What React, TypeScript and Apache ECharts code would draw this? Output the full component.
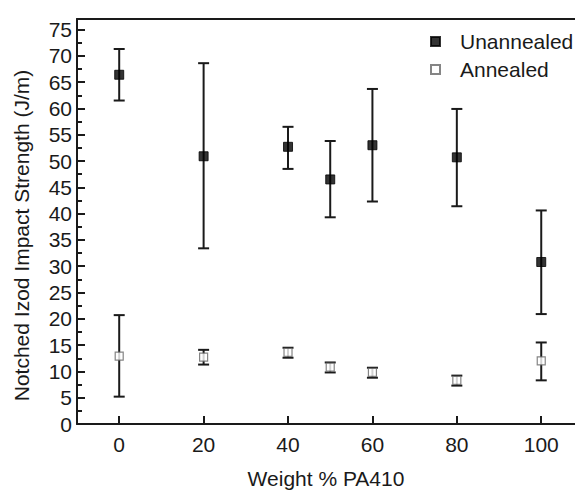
import React, { useEffect, useRef } from "react";
import * as echarts from "echarts";

const weights = [0, 20, 40, 50, 60, 80, 100];
const unannealed = [66.4, 50.9, 52.7, 46.5, 53.0, 50.7, 30.8];
const unannealedLow = [61.5, 33.4, 48.5, 39.3, 42.3, 41.4, 20.9];
const unannealedHigh = [71.3, 68.6, 56.5, 53.8, 63.7, 59.9, 40.6];
const annealed = [12.9, 12.7, 13.6, 10.8, 9.8, 8.3, 12.0];
const annealedLow = [5.2, 11.3, 12.6, 9.8, 8.8, 7.3, 8.3];
const annealedHigh = [20.7, 14.1, 14.5, 11.7, 10.7, 9.2, 15.5];
const xTicks = [0, 20, 40, 60, 80, 100];

const FONT = "'Liberation Sans', Arial, sans-serif";
const INK = "#1a1a1a";

function errorSeries(name: string, lo: number[], hi: number[]) {
  return {
    name: name + " err",
    type: "custom",
    z: 1,
    data: weights.map((w, i) => [w, lo[i], hi[i]]),
    renderItem: (params: any, api: any) => {
      const x = api.value(0);
      const pLo = api.coord([x, api.value(1)]);
      const pHi = api.coord([x, api.value(2)]);
      const hw = 5.5;
      const style = { stroke: INK, lineWidth: 2 };
      return {
        type: "group",
        children: [
          { type: "line", shape: { x1: pLo[0], y1: pLo[1], x2: pHi[0], y2: pHi[1] }, style },
          { type: "line", shape: { x1: pHi[0] - hw, y1: pHi[1], x2: pHi[0] + hw, y2: pHi[1] }, style },
          { type: "line", shape: { x1: pLo[0] - hw, y1: pLo[1], x2: pLo[0] + hw, y2: pLo[1] }, style },
        ],
      };
    },
  };
}

export default function App() {
  const ref = useRef<HTMLDivElement>(null);
  useEffect(() => {
    if (!ref.current) return;
    const chart = echarts.init(ref.current, undefined, { renderer: "svg" });
    chart.setOption({
      animation: false,
      textStyle: { fontFamily: FONT },
      grid: { left: 77, right: 0, top: 19, bottom: 66, containLabel: false, outerBoundsMode: "none" },
      legend: {
        orient: "vertical",
        left: 425,
        top: 26,
        itemWidth: 9,
        itemHeight: 9,
        itemGap: 7,
        data: ["Unannealed", "Annealed"],
        textStyle: { fontFamily: FONT, fontSize: 21, color: INK, lineHeight: 21, padding: [0, 0, 0, 15] },
      },
      xAxis: [
        {
          type: "value",
          min: -10,
          max: 108,
          interval: 10,
          name: "Weight % PA410",
          nameLocation: "middle",
          nameGap: 44,
          nameTextStyle: { fontFamily: FONT, fontSize: 21, color: INK },
          axisLine: { show: true, onZero: false, lineStyle: { color: INK, width: 2 } },
          axisTick: { show: true, inside: true, length: 8, lineStyle: { color: INK, width: 2 }, customValues: xTicks },
          axisLabel: { fontFamily: FONT, fontSize: 21, color: INK, margin: 10, customValues: xTicks },
          splitLine: { show: false },
        },
        {
          type: "value",
          position: "top",
          min: -10,
          max: 108,
          axisLine: { show: true, onZero: false, lineStyle: { color: INK, width: 2 } },
          axisTick: { show: false },
          axisLabel: { show: false },
          splitLine: { show: false },
        },
      ],
      yAxis: {
        type: "value",
        min: 0,
        max: 77,
        interval: 5,
        name: "Notched Izod Impact Strength (J/m)",
        nameLocation: "middle",
        nameGap: 45,
        nameTextStyle: { fontFamily: FONT, fontSize: 21, color: INK, padding: [0, 28, 0, 0] },
        axisLine: { show: true, onZero: false, lineStyle: { color: INK, width: 2 } },
        axisTick: { show: true, inside: true, length: 8, lineStyle: { color: INK, width: 2 } },
        minorTick: { show: true, splitNumber: 2, length: 5, lineStyle: { color: INK, width: 2 } },
        axisLabel: {
          fontFamily: FONT,
          fontSize: 21,
          color: INK,
          margin: 5,
          formatter: (v: number) => (v % 5 === 0 && v <= 75 ? String(v) : ""),
        },
        splitLine: { show: false },
      },
      series: [
        errorSeries("Unannealed", unannealedLow, unannealedHigh),
        errorSeries("Annealed", annealedLow, annealedHigh),
        {
          name: "Unannealed",
          type: "scatter",
          z: 3,
          symbol: "rect",
          symbolSize: 9,
          itemStyle: { color: "#000", borderColor: "#000", borderWidth: 1 },
          data: weights.map((w, i) => [w, unannealed[i]]),
        },
        {
          name: "Annealed",
          type: "scatter",
          z: 3,
          symbol: "rect",
          symbolSize: 8,
          itemStyle: { color: "#fff", borderColor: "#666", borderWidth: 1.2 },
          data: weights.map((w, i) => [w, annealed[i]]),
        },
      ],
    });
    return () => chart.dispose();
  }, []);
  return <div ref={ref} style={{ width: 575, height: 490, position: "absolute", left: 0, top: 0 }} />;
}
